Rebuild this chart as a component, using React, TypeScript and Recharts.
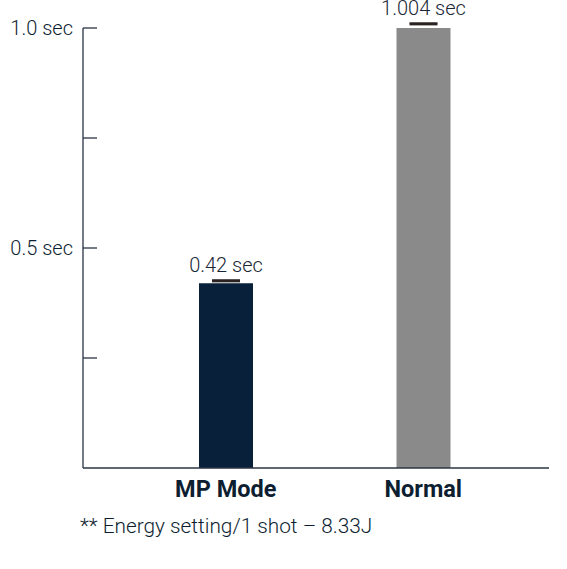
import React from 'react';
import { BarChart, Bar, XAxis, YAxis, ErrorBar, LabelList, Cell } from 'recharts';

const categories = ['MP Mode', 'Normal'];
const times = [0.42, 1.004];
// small cap drawn just above each bar top: [below, above]
const capErrors = [
  [-0.004, 0.007],
  [-0.004, 0.007],
];
const barColors = ['#08203a', '#8a8a8a'];
const yTicks = [0, 0.25, 0.5, 0.75, 1.0];
const yTickLabels: Record<number, string> = { 0.5: '0.5 sec', 1: '1.0 sec' };
const footnote = '** Energy setting/1 shot \u2013 8.33J';

const data = categories.map((name, i) => ({ name, time: times[i], err: capErrors[i] }));

const FONT = 'Roboto, "Noto Sans", sans-serif';
const AXIS = '#2a3444';

const YTick = (props: any) => {
  const { x, y, payload } = props;
  const label = yTickLabels[payload.value];
  return (
    <g>
      {payload.value !== 0 && <line x1={x} y1={y} x2={x + 14} y2={y} stroke={AXIS} strokeWidth={1.3} />}
      {label && (
        <text x={x - 10} y={y} dy={7} textAnchor="end" fill="#0d1e30" fontSize={20} fontFamily={FONT} fontWeight={300}>
          {label}
        </text>
      )}
    </g>
  );
};

const ValueLabel = (props: any) => {
  const { x, y, width, value } = props;
  return (
    <text
      x={x + width / 2}
      y={y - 11}
      textAnchor="middle"
      fill="#1a2636"
      fontSize={20}
      fontFamily={FONT}
      fontWeight={300}
    >
      {`${value} sec`}
    </text>
  );
};

const App: React.FC = () => {
  return (
    <div style={{ position: 'absolute', left: 0, top: 0, width: 567, height: 569, background: '#fff' }}>
      <style>{'.recharts-bar{clip-path:none !important}'}</style>
      <BarChart width={567} height={569} data={data} margin={{ top: 28, right: 18, left: 0, bottom: 69 }}>
        <XAxis
          dataKey="name"
          padding={{ left: 44, right: 27 }}
          axisLine={{ stroke: AXIS, strokeWidth: 1.3 }}
          tickLine={false}
          height={32}
          tick={{ fill: '#0d1e30', fontSize: 23.5, fontWeight: 700, fontFamily: FONT }}
          tickMargin={6}
        />
        <YAxis
          type="number"
          domain={[0, 1]}
          allowDataOverflow
          ticks={yTicks}
          width={83}
          tickSize={0}
          tickMargin={0}
          axisLine={{ stroke: AXIS, strokeWidth: 1.3 }}
          tickLine={false}
          tick={<YTick />}
        />
        <Bar dataKey="time" barSize={54} isAnimationActive={false}>
          {data.map((d, i) => (
            <Cell key={d.name} fill={barColors[i]} />
          ))}
          <ErrorBar dataKey="err" width={14} stroke="#2b2222" strokeWidth={1.8} direction="y" />
          <LabelList dataKey="time" content={<ValueLabel />} />
        </Bar>
      </BarChart>
      <div
        style={{
          position: 'absolute',
          left: 80,
          top: 514,
          fontFamily: FONT,
          fontSize: 20.8,
          fontWeight: 300,
          color: '#0d1e30',
          whiteSpace: 'nowrap',
        }}
      >
        {footnote}
      </div>
    </div>
  );
};

export default App;
